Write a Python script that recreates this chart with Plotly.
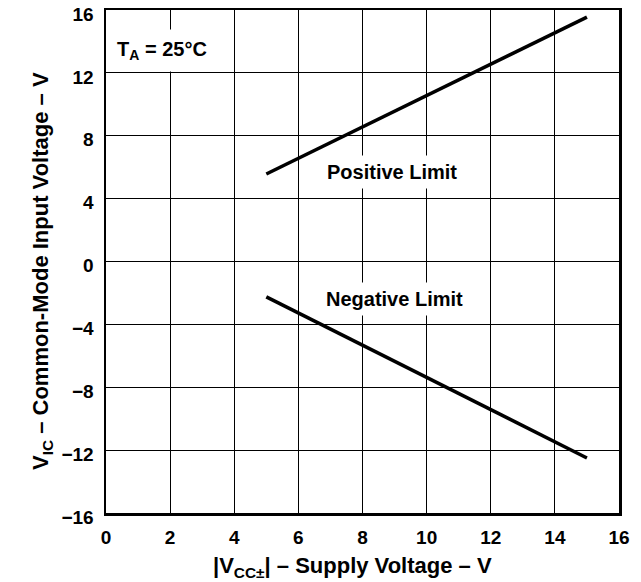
import plotly.graph_objects as go

supply_v = [5, 15]
positive_limit = [5.57, 15.55]
negative_limit = [-2.25, -12.5]
x_ticks = [0, 2, 4, 6, 8, 10, 12, 14, 16]
y_ticks = [-16, -12, -8, -4, 0, 4, 8, 12, 16]
y_ticklabels = ["\u221216", "\u221212", "\u22128", "\u22124", "0", "4", "8", "12", "16"]

FONT = "Liberation Sans, Arial, sans-serif"

fig = go.Figure()
fig.add_trace(go.Scatter(x=supply_v, y=positive_limit, mode="lines",
                         line=dict(color="black", width=3.5), showlegend=False, hoverinfo="skip"))
fig.add_trace(go.Scatter(x=supply_v, y=negative_limit, mode="lines",
                         line=dict(color="black", width=3.5), showlegend=False, hoverinfo="skip"))

tick_font = dict(family=FONT, size=19, color="black", weight="bold")
axis_common = dict(showgrid=True, gridcolor="black", gridwidth=1, automargin=False,
                   showline=True, linecolor="black", linewidth=2.5, mirror=True,
                   zeroline=False, ticks="", tickfont=tick_font, ticklabeloverflow="allow")

fig.update_xaxes(range=[0, 16], tickvals=x_ticks, ticktext=[str(v) for v in x_ticks],
                 ticklabelstandoff=6, **axis_common)
fig.update_yaxes(range=[-16, 16], tickvals=y_ticks, ticktext=y_ticklabels,
                 ticklabelstandoff=6, ticklabelshift=4, **axis_common)

ann_font = dict(family=FONT, size=20, color="black", weight="bold")
fig.add_annotation(x=0.05, y=13.45, text="T<sub>A</sub> = 25°C", showarrow=False, xanchor="left",
                   bgcolor="white", borderpad=8, font=ann_font)
fig.add_annotation(x=8.92, y=5.7, text="Positive Limit", showarrow=False, bgcolor="white",
                   borderpad=5, font=ann_font)
fig.add_annotation(x=9.0, y=-2.38, text="Negative Limit", showarrow=False, bgcolor="white",
                   borderpad=5, font=ann_font)

title_font = dict(family=FONT, size=22, color="black", weight="bold")
fig.add_annotation(xref="paper", yref="paper", x=0.48, y=-0.107, yanchor="middle",
                   text="|V<sub>CC±</sub>| \u2013 Supply Voltage \u2013 V", showarrow=False, font=title_font)
fig.add_annotation(xref="paper", yref="paper", x=-0.156, y=0.481, textangle=-90,
                   text="V<sub>IC</sub> \u2013 Common-Mode Input Voltage \u2013 V", showarrow=False, font=title_font)

fig.update_layout(width=641, height=582, margin=dict(l=106, r=22, t=10, b=69, autoexpand=False),
                  plot_bgcolor="white", paper_bgcolor="white", font=dict(family=FONT),
                  hovermode=False)

fig.write_html("out.html", config={"displayModeBar": False, "staticPlot": True},
               post_script="document.body.style.margin='0';document.body.style.overflow='hidden';")
